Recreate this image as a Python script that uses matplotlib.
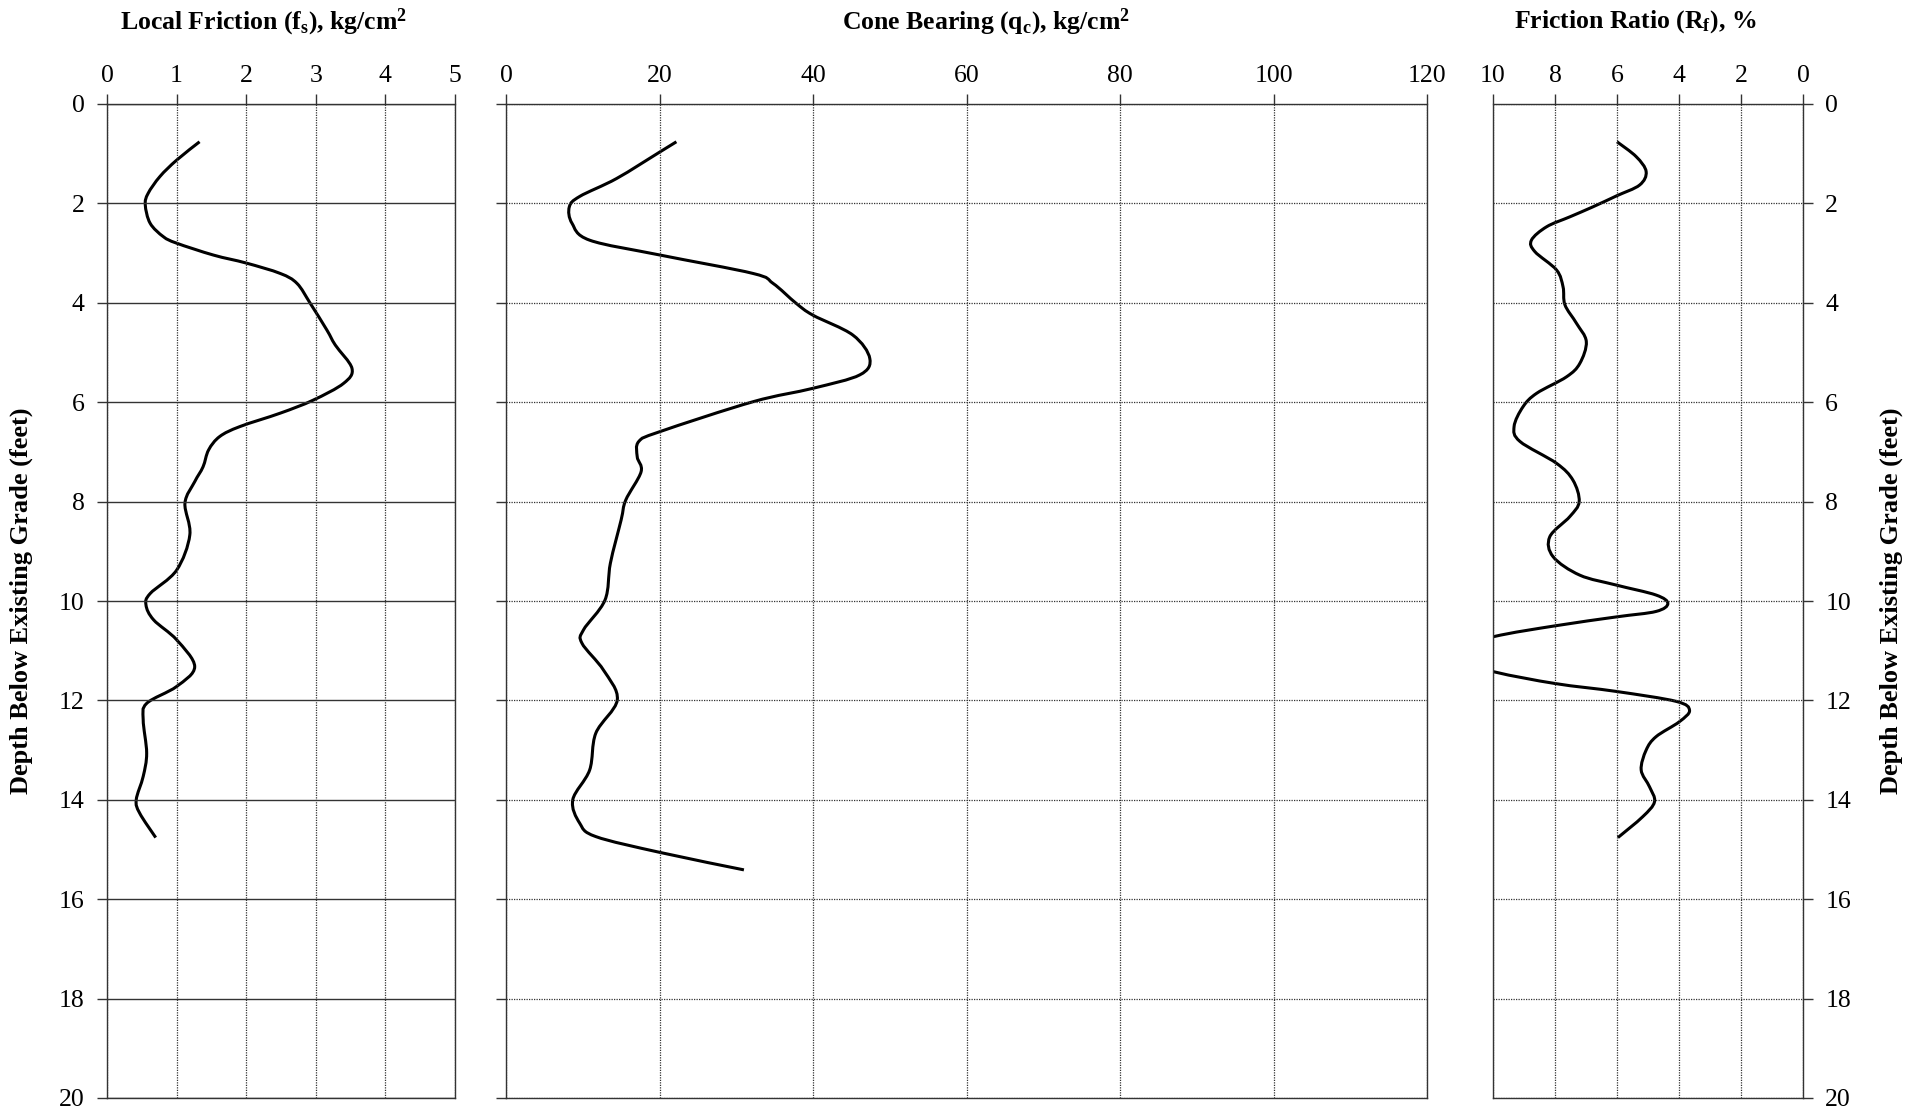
import matplotlib
matplotlib.use('Agg')
import matplotlib.pyplot as plt
import numpy as np
from matplotlib.path import Path
from matplotlib.patches import PathPatch

plt.rcParams['font.family'] = ['Liberation Serif', 'DejaVu Serif']
plt.rcParams['mathtext.fontset'] = 'custom'
plt.rcParams['mathtext.rm'] = 'Liberation Serif'
plt.rcParams['mathtext.bf'] = 'Liberation Serif:bold'
plt.rcParams['mathtext.it'] = 'Liberation Serif:italic'

# Local friction fs (kg/cm2) vs depth (ft)
fs_depth = [0.76, 1.13, 1.46, 1.80, 2.03, 2.40, 2.67, 2.80, 3.04, 3.20, 3.41, 3.61, 4.01,
            4.55, 4.85, 5.32, 5.62, 5.96, 6.22, 6.49, 6.69, 6.96, 7.30, 7.60, 8.03, 8.67,
            9.38, 9.85, 10.08, 10.38, 10.78, 11.32, 11.72, 12.06, 12.39, 13.06, 13.53,
            14.00, 14.27, 14.76]
fs_vals = [1.33, 1.00, 0.76, 0.59, 0.55, 0.62, 0.81, 1.00, 1.53, 2.00, 2.49, 2.73, 2.92,
           3.16, 3.28, 3.52, 3.40, 2.96, 2.49, 1.91, 1.62, 1.46, 1.38, 1.26, 1.12, 1.19,
           1.00, 0.62, 0.56, 0.67, 1.00, 1.26, 1.00, 0.57, 0.52, 0.57, 0.52,
           0.42, 0.47, 0.70]

# Cone bearing qc (kg/cm2) vs depth (ft)
qc_depth = [0.76, 0.96, 1.50, 1.86, 2.07, 2.40, 2.74, 3.04, 3.41, 3.61, 4.01, 4.25, 4.65,
            5.12, 5.45, 5.72, 5.99, 6.59, 6.79, 7.10, 7.40, 7.97, 8.37, 9.24, 9.98, 10.58,
            10.85, 11.39, 11.99, 12.66, 13.40, 14.00, 14.47, 14.74, 15.06, 15.41]
qc_vals = [22.2, 20.1, 14.4, 9.6, 8.25, 8.6, 10.9, 20.1, 32.2, 34.8, 37.8, 40.0, 45.2,
           47.4, 46.1, 40.0, 32.2, 20.1, 17.3, 17.1, 17.6, 15.6, 15.0, 13.6, 12.9, 10.1,
           9.9, 12.7, 14.5, 11.7, 10.9, 8.7, 9.6, 11.7, 20.1, 31.0]

# Friction ratio Rf (%) vs depth (ft)
rf_depth = [0.76, 1.06, 1.36, 1.63, 1.85, 2.07, 2.27, 2.47, 2.74, 2.97, 3.34, 3.68, 4.04,
            4.41, 4.78, 5.22, 5.49, 5.82, 6.09, 6.49, 6.79, 7.23, 7.57, 8.00, 8.30, 8.71,
            9.11, 9.48, 9.68, 9.88, 10.05, 10.21, 10.32, 10.50, 10.72, 11.07, 11.42,
            11.66, 11.82, 12.02, 12.20, 12.43, 12.73, 13.00, 13.40, 13.74, 14.04, 14.34,
            14.76]
rf_vals = [6.00, 5.38, 5.06, 5.27, 6.02, 6.78, 7.52, 8.27, 8.76, 8.65, 7.95, 7.74, 7.68,
           7.31, 6.99, 7.20, 7.63, 8.59, 9.03, 9.32, 9.13, 7.95, 7.42, 7.22, 7.52, 8.17,
           8.06, 7.20, 6.02, 4.74, 4.36, 4.74, 6.02, 8.00, 10.0, 12.0, 10.0,
           8.00, 6.02, 4.09, 3.66, 3.99, 4.74, 5.06, 5.22, 4.95, 4.79, 5.17,
           5.97]


def smooth_line(ax, x, y):
    # smoothed line through the points (cubic Bezier segments), like a spreadsheet "smooth line"
    pts = np.column_stack([x, y])
    n = len(pts)
    verts = [pts[0]]
    codes = [Path.MOVETO]
    for i in range(n - 1):
        p0 = pts[i - 1] if i > 0 else pts[i]
        p1, p2 = pts[i], pts[i + 1]
        p3 = pts[i + 2] if i + 2 < n else pts[i + 1]
        verts += [p1 + (p2 - p0) / 6, p2 - (p3 - p1) / 6, p2]
        codes += [Path.CURVE4] * 3
    ax.add_patch(PathPatch(Path(verts, codes), fill=False, edgecolor='black',
                           lw=2.2, capstyle='butt', joinstyle='round'))


W, H = 1919, 1112
fig = plt.figure(figsize=(W / 100, H / 100), dpi=100)

bottom = 1 - 1098 / H
height = (1098 - 104) / H
ax1 = fig.add_axes([107 / W, bottom, 348 / W, height])
ax2 = fig.add_axes([506 / W, bottom, 921 / W, height])
ax3 = fig.add_axes([1493 / W, bottom, 310 / W, height])

grid_dot = dict(color='#333333', linestyle=(0, (1, 1)), linewidth=0.9)

for ax in (ax1, ax2, ax3):
    ax.set_ylim(20, 0)
    ax.set_yticks(range(0, 21, 2))
    ax.xaxis.tick_top()
    ax.tick_params(axis='both', direction='out', length=7, width=1, labelsize=18.5,
                   color='#333333')
    ax.tick_params(axis='x', pad=5)
    ax.tick_params(axis='y', pad=9)
    ax.xaxis.grid(True, **grid_dot)
    for s in ax.spines.values():
        s.set_color('#333333')
        s.set_linewidth(1)

# panel 1
smooth_line(ax1, fs_vals, fs_depth)
ax1.set_xlim(0, 5)
ax1.set_xticks(range(0, 6))
ax1.yaxis.grid(True, color='#333333', linestyle='-', linewidth=1)
ax1.spines['right'].set_linestyle((0, (1, 1)))

# panel 2
smooth_line(ax2, qc_vals, qc_depth)
ax2.set_xlim(0, 120)
ax2.set_xticks(range(0, 121, 20))
ax2.tick_params(axis='y', labelleft=False)
ax2.yaxis.grid(True, **grid_dot)
ax2.spines['right'].set_linestyle((0, (1, 1)))

# panel 3
smooth_line(ax3, rf_vals, rf_depth)
ax3.set_xlim(10, 0)
ax3.set_xticks(range(10, -1, -2))
ax3.yaxis.tick_right()
ax3.yaxis.grid(True, **grid_dot)
ax3.spines['left'].set_linestyle((0, (1, 1)))

ty = 1 - 22 / H
fig.text(264 / W, ty, r'Local Friction (f$_{\mathbf{s}}$), kg/cm$^{\mathbf{2}}$', ha='center',
         va='center', fontsize=18.5, fontweight='bold')
fig.text(986 / W, ty, r'Cone Bearing (q$_{\mathbf{c}}$), kg/cm$^{\mathbf{2}}$', ha='center',
         va='center', fontsize=18.5, fontweight='bold')
fig.text(1635 / W, ty, r'Friction Ratio (R$_{\mathbf{f}}$), %', ha='center', va='center',
         fontsize=18.5, fontweight='bold')

yc = bottom + height / 2
fig.text(21 / W, yc, 'Depth Below Existing Grade (feet)', rotation=90, ha='center',
         va='center', fontsize=19, fontweight='bold')
fig.text(1891 / W, yc, 'Depth Below Existing Grade (feet)', rotation=90, ha='center',
         va='center', fontsize=19, fontweight='bold')

fig.savefig('out.png', dpi=100)
